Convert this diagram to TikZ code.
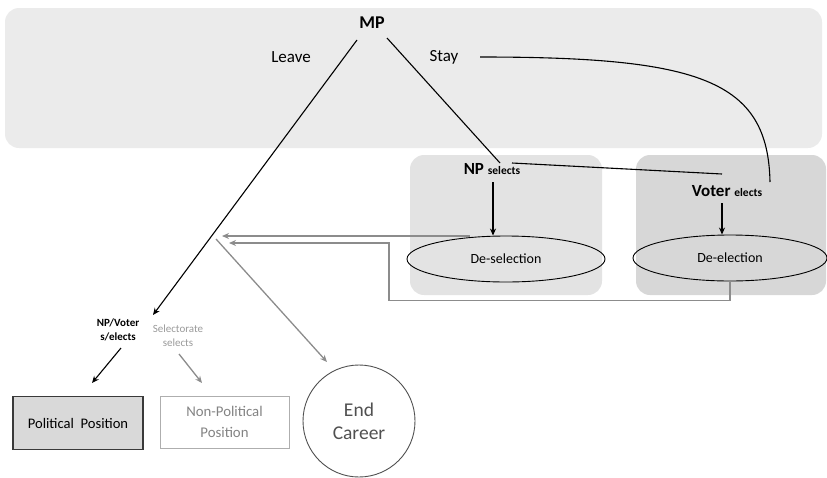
\documentclass[tikz,border=0pt]{standalone}
\usepackage{fontspec}
\setmainfont{Carlito}
\usetikzlibrary{arrows.meta,shapes.geometric,calc}
\definecolor{bgA}{HTML}{EBEBEB}
\definecolor{bgB}{HTML}{E3E3E3}
\definecolor{bgC}{HTML}{D7D7D7}
\definecolor{lgray}{HTML}{8C8C8C}
\definecolor{tgray}{HTML}{9A9A9A}
\definecolor{dgray}{HTML}{3A3A3A}
\definecolor{cgray}{HTML}{505050}
\tikzset{
  lbl/.style={inner sep=0pt, font=\fontsize{17}{19}\selectfont},
  blk/.style={line width=1.1pt, black},
  blkarr/.style={blk, -{Stealth[length=7pt,width=6pt]}},
  gry/.style={line width=1.3pt, lgray},
  gryarr/.style={gry, -{Stealth[length=7pt,width=6pt]}},
  oval/.style={ellipse, draw=black, line width=0.9pt, inner sep=0pt, font=\fontsize{14}{16}\selectfont}
}
\begin{document}
\begin{tikzpicture}[x=1pt,y=-1pt]
\useasboundingbox (0,0) rectangle (827,477);
% background panels
\fill[bgA, rounded corners=14pt] (5,8) rectangle (822,148);
\fill[bgB, rounded corners=14pt] (410,155) rectangle (602,295);
\fill[bgC, rounded corners=14pt] (636,155) rectangle (826,295);

% text nodes
\node[inner sep=0pt, font=\bfseries\fontsize{18}{20}\selectfont] (mp) at (372,23) {MP};
\node[lbl] (leave) at (291,57) {Leave};
\node[lbl] (stay) at (444,57) {Stay};
\node[inner sep=0pt] (nps) at (492,169) {\bfseries\fontsize{17}{19}\selectfont NP \fontsize{11.5}{13}\selectfont selects};
\node[inner sep=0pt] (vot) at (727,191) {\bfseries\fontsize{17}{19}\selectfont Voter \fontsize{11.5}{13}\selectfont elects};
\node[oval, minimum width=198pt, minimum height=46pt] (desel) at (506,259) {De-selection};
\node[oval, minimum width=194pt, minimum height=46pt] (deel) at (730,258) {De-election};

\node[inner sep=0pt, align=center, font=\bfseries\fontsize{11}{14}\selectfont] (npv) at (118,330) {NP/Voter\\s/elects};
\node[inner sep=0pt, align=center, text=tgray, font=\fontsize{11}{14}\selectfont] (sel) at (178,336) {Selectorate\\selects};

\node[draw=dgray, fill=bgB!90!gray, line width=1.2pt, minimum width=130pt, minimum height=53pt, inner sep=0pt, font=\fontsize{14.6}{17}\selectfont] (pp) at (78,423) {Political\ \ Position};
\node[draw=tgray!80, line width=1pt, minimum width=129pt, minimum height=52pt, inner sep=0pt, align=center, text=tgray!85!black, font=\fontsize{14.8}{21}\selectfont] (npp) at (224.5,422) {Non-Political\\Position};
\node[circle, draw=cgray, line width=0.9pt, minimum size=112pt, inner sep=0pt, align=center, text=cgray, font=\fontsize{19.5}{23}\selectfont] (end) at (359,421) {End\\Career};

% coordinates
\coordinate (mpL) at (357,40);
\coordinate (mpR) at (387,38);
\coordinate (leaveTip) at (153,315);
\coordinate (npsTop) at (500,163);
\coordinate (npsR) at (512,163);
\coordinate (votL) at (722,174);
\coordinate (stayEnd) at (480,57);
\coordinate (votTop) at (770,182);
\coordinate (aStart) at (470,236);
\coordinate (aTip) at (222,236);
\coordinate (bTip) at (229,243);
\coordinate (cStart) at (216,239);
\coordinate (cTip) at (327,362);

% MP branches
\draw[blkarr] (mpL) -- (leaveTip);
\draw[blk] (mpR) -- (npsTop);
\draw[blk] (npsR) -- (votL);
\draw[blk] (stayEnd) .. controls (700,57) and (768,80) .. (votTop);

% down arrows to ovals
\draw[blkarr] (493,182) -- (desel.north -| 493,0);
\draw[blkarr] (722,203) -- (deel.north -| 722,0);

% gray returns
\draw[gryarr] (aStart) -- (aTip);
\draw[gryarr] (deel.south) -- ++(0,19) -| (389,243) -- (bTip);
\draw[gryarr] (cStart) -- (cTip);

% lower arrows
\draw[blkarr] (121,348) -- (92,383);
\draw[gryarr] (179,354) -- (202,383);
\end{tikzpicture}
\end{document}
